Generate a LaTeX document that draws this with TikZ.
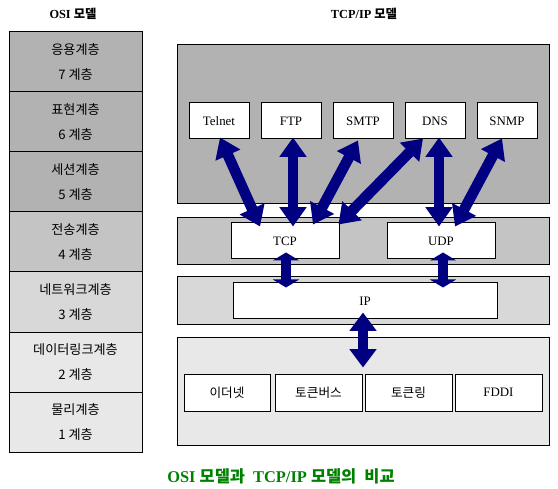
\documentclass[tikz,border=0pt]{standalone}
\usepackage{fontspec}
\setmainfont{Liberation Serif}
\newfontfamily\kr{Noto Sans CJK KR}
\usetikzlibrary{arrows.meta,calc}
\newcommand\pix{0.03cm}
\definecolor{layerdark}{RGB}{178,178,178}
\definecolor{layermid}{RGB}{196,196,196}
\definecolor{layerlight}{RGB}{216,216,216}
\definecolor{layerpale}{RGB}{232,232,232}
\definecolor{arrownavy}{RGB}{0,0,128}
\definecolor{captiongreen}{RGB}{0,128,0}
\tikzset{
  osirow/.style={draw, line width=0.85pt, minimum width=133*\pix, minimum height=60*\pix,
    inner sep=0pt, align=center, font=\kr\fontsize{11.2}{21.3}\selectfont},
  layer/.style={draw, line width=0.85pt},
  proto/.style={draw, fill=white, line width=0.85pt, inner sep=0pt, minimum height=36*\pix,
    font=\fontsize{11}{13}\selectfont},
  linkbox/.style={proto, minimum width=87*\pix, minimum height=37*\pix},
  title/.style={font=\bfseries\fontsize{10.5}{13}\selectfont},
  bigarrow/.style={arrownavy, line width=0.32cm,
    {Triangle[width=0.78cm,length=#1]}-{Triangle[width=0.78cm,length=#1]}},
  bigarrow/.default=0.58cm
}
\begin{document}
\begin{tikzpicture}[x=\pix, y=-\pix]
\useasboundingbox (0,0) rectangle (558,489);
\node[title] (osititle) at (73,14) {OSI {\kr 모델}};
\node[title] (tcpiptitle) at (364,14) {TCP/IP {\kr 모델}};
\node[osirow, fill=layerdark] (osi7) at (75.5,62) {응용계층\\7 계층};
\node[osirow, fill=layerdark] (osi6) at (75.5,122) {표현계층\\6 계층};
\node[osirow, fill=layerdark] (osi5) at (75.5,182) {세션계층\\5 계층};
\node[osirow, fill=layermid] (osi4) at (75.5,242) {전송계층\\4 계층};
\node[osirow, fill=layerlight] (osi3) at (75.5,302) {네트워크계층\\3 계층};
\node[osirow, fill=layerpale] (osi2) at (75.5,362) {데이터링크계층\\2 계층};
\node[osirow, fill=layerpale] (osi1) at (75.5,422) {물리계층\\1 계층};
\draw[layer, fill=layerdark] (177,45) rectangle (549,204);
\draw[layer, fill=layermid] (177,218) rectangle (549,265);
\draw[layer, fill=layerlight] (177,277) rectangle (549,325);
\draw[layer, fill=layerpale] (177,337) rectangle (549,445);
\node[proto, minimum width=60*\pix] (telnet) at (219,121) {Telnet};
\node[proto, minimum width=60*\pix] (ftp) at (291,121) {FTP};
\node[proto, minimum width=60*\pix] (smtp) at (363,121) {SMTP};
\node[proto, minimum width=60*\pix] (dns) at (435,121) {DNS};
\node[proto, minimum width=60*\pix] (snmp) at (507,121) {SNMP};
\node[proto, minimum width=108*\pix] (tcp) at (285,241) {TCP};
\node[proto, minimum width=108*\pix] (udp) at (441,241) {UDP};
\node[proto, minimum width=264*\pix] (ip) at (365,301) {IP};
\node[linkbox, minimum width=86*\pix, font=\kr\fontsize{10.8}{13}\selectfont] (ethernet) at (227,392.5) {이더넷};
\node[linkbox, font=\kr\fontsize{10.8}{13}\selectfont] (tokenbus) at (318.5,392.5) {토큰버스};
\node[linkbox, font=\kr\fontsize{10.8}{13}\selectfont] (tokenring) at (408.5,392.5) {토큰링};
\node[linkbox] (fddi) at (498.5,392.5) {FDDI};
\draw[bigarrow] ($(telnet.south)+(1,-2)$) -- ($(tcp.north)+(-25,4)$);
\draw[bigarrow] ($(ftp.south)+(2,-2)$) -- ($(tcp.north)+(8,4)$);
\draw[bigarrow] ($(smtp.south)+(-5,1)$) -- ($(tcp.north)+(28,2)$);
\draw[bigarrow] ($(dns.south)+(-12,-1)$) -- ($(tcp.north east)+(-1,2)$);
\draw[bigarrow] ($(dns.south)+(4,-2)$) -- ($(udp.north)+(-2,4)$);
\draw[bigarrow] ($(snmp.south)+(-5,-1)$) -- ($(udp.north)+(14,4)$);
\draw[bigarrow=0.24cm] ($(tcp.south)+(1,-7)$) -- ($(tcp.south |- ip.north)+(1,5)$);
\draw[bigarrow=0.24cm] ($(udp.south)+(2,-7)$) -- ($(udp.south |- ip.north)+(2,5)$);
\draw[bigarrow=0.55cm] ($(ip.south)+(-2,-7)$) -- ($(ip.south |- ethernet.north)+(-2,-6)$);
\node[font=\bfseries\fontsize{14}{16}\selectfont, text=captiongreen] (caption) at (281,476)
  {OSI {\kr 모델과}\enspace TCP/IP {\kr 모델의}\enspace{\kr 비교}};
\end{tikzpicture}
\end{document}
